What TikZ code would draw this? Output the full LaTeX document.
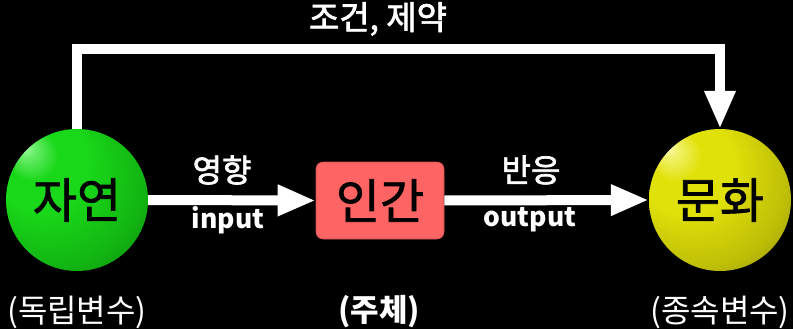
\documentclass[tikz,border=0pt]{standalone}
\usepackage{fontspec}
\setmainfont{Noto Sans CJK KR}
\newfontfamily\medfont[FakeBold=2]{Noto Sans CJK KR}
\newfontfamily\bigfont[FakeBold=1.5]{Noto Sans CJK KR}
\usetikzlibrary{arrows.meta,shadings}
\definecolor{boxred}{RGB}{255,100,100}
\definecolor{gmain}{RGB}{25,215,25}
\definecolor{ghl}{RGB}{170,255,170}
\definecolor{gedge}{RGB}{0,90,0}
\definecolor{ymain}{RGB}{225,225,10}
\definecolor{yhl}{RGB}{255,255,190}
\definecolor{yedge}{RGB}{100,100,0}
\pgfdeclareradialshading{greenball}{\pgfqpoint{-19bp}{19bp}}{%
  color(0bp)=(ghl); color(3bp)=(ghl!55!gmain); color(9bp)=(gmain); color(17bp)=(gmain);
  color(31bp)=(gmain!72!gedge); color(43bp)=(gmain!25!gedge); color(50bp)=(gedge!80!black)}
\pgfdeclareradialshading{yellowball}{\pgfqpoint{-19bp}{19bp}}{%
  color(0bp)=(yhl); color(3bp)=(yhl!55!ymain); color(9bp)=(ymain); color(17bp)=(ymain);
  color(31bp)=(ymain!72!yedge); color(43bp)=(ymain!25!yedge); color(50bp)=(yedge!80!black)}
\begin{document}
\begin{tikzpicture}[x=1pt,y=-1pt,
  sphere/.style={circle,minimum size=142pt,inner sep=0pt,text=black,font=\bigfont\fontsize{48}{52}\selectfont},
  humanbox/.style={rectangle,rounded corners=7pt,minimum width=128pt,minimum height=77pt,inner sep=0pt,
    fill=boxred,draw=boxred!80!black,line width=0.6pt,text=black,font=\bigfont\fontsize{48}{52}\selectfont},
  flow/.style={draw=white,line width=10pt,-{Triangle[length=38pt,width=29pt]}},
  lblm/.style={text=white,font=\medfont\fontsize{32}{36}\selectfont,inner sep=0pt},
  lbl/.style={text=white,font=\fontsize{32}{36}\selectfont,inner sep=0pt},
  lblb/.style={text=white,font=\bfseries\fontsize{26.5}{30}\selectfont,inner sep=0pt}
]
\fill[black] (0,0) rectangle (793,329);
\useasboundingbox (0,0) rectangle (793,329);
\node[sphere,shading=greenball] (ja) at (77,200) {자연};
\node[sphere,shading=yellowball] (mun) at (720,200) {문화};
\node[humanbox] (in) at (380,200.5) {인간};
\coordinate (tl) at (77,49);
\coordinate (tr) at (720,49);
\draw[flow] (ja.north) -- (tl) -- (tr) -- (mun.north);
\draw[flow] (ja.east) -- (in.west);
\draw[flow] (in.east) -- (mun.west);
\node[lblm,font=\medfont\fontsize{33}{36}\selectfont] (t1) at (378,19) {조건, 제약};
\node[lblm] (t2) at (222,170) {영향};
\node[lblb] (t3) at (228,220) {input};
\node[lblm] (t4) at (531,170) {반응};
\node[lblb] (t5) at (530,220) {output};
\node[lbl] (b1) at (77,312) {(독립변수)};
\node[lblb,font=\bfseries\fontsize{31}{34}\selectfont] (b2) at (379,312) {(주체)};
\node[lbl] (b3) at (720,312) {(종속변수)};
\end{tikzpicture}
\end{document}
